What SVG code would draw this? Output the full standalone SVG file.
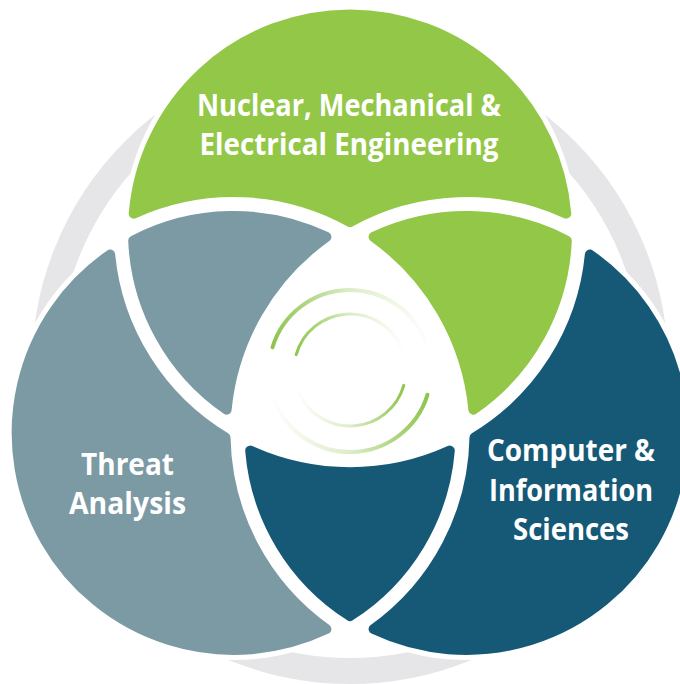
<svg xmlns="http://www.w3.org/2000/svg" xmlns:xlink="http://www.w3.org/1999/xlink" width="680" height="684" viewBox="0 0 680 684">
<defs>
<style>
.t{font-family:'Open Sans','Liberation Sans',sans-serif;font-weight:700;font-size:31px;fill:#ffffff;text-anchor:middle}
.shape{stroke-width:10;stroke-linejoin:round}
.g{fill:#93c748;stroke:#93c748}
.l{fill:#7b9aa4;stroke:#7b9aa4}
.r{fill:#165977;stroke:#165977}
.halo{fill:#ffffff}
.arc{fill:none;stroke-linecap:round}
</style>
<path id="outer" d="M133.73,213.64 A217,217 0 0 1 566.27,213.64 A241,241 0 0 0 350,222.02 A241,241 0 0 0 133.73,213.64 Z"/>
<path id="lobe" d="M133.2,240.58 A217,217 0 0 1 326.41,236.89 A241,241 0 0 0 226.6,409.75 A217,217 0 0 1 133.2,240.58 Z"/>
<linearGradient id="gu1" gradientUnits="userSpaceOnUse" x1="270" y1="0" x2="430" y2="0">
<stop offset="0" stop-color="#8cc34a" stop-opacity="1"/>
<stop offset="0.5" stop-color="#8cc34a" stop-opacity="0.3"/>
<stop offset="1" stop-color="#8cc34a" stop-opacity="0"/>
</linearGradient>
<linearGradient id="gl1" gradientUnits="userSpaceOnUse" x1="430" y1="0" x2="270" y2="0">
<stop offset="0" stop-color="#8cc34a" stop-opacity="1"/>
<stop offset="0.5" stop-color="#8cc34a" stop-opacity="0.3"/>
<stop offset="1" stop-color="#8cc34a" stop-opacity="0"/>
</linearGradient>
<linearGradient id="gu2" gradientUnits="userSpaceOnUse" x1="294" y1="0" x2="406" y2="0">
<stop offset="0" stop-color="#8cc34a" stop-opacity="1"/>
<stop offset="0.5" stop-color="#8cc34a" stop-opacity="0.3"/>
<stop offset="1" stop-color="#8cc34a" stop-opacity="0"/>
</linearGradient>
<linearGradient id="gl2" gradientUnits="userSpaceOnUse" x1="406" y1="0" x2="294" y2="0">
<stop offset="0" stop-color="#8cc34a" stop-opacity="1"/>
<stop offset="0.5" stop-color="#8cc34a" stop-opacity="0.3"/>
<stop offset="1" stop-color="#8cc34a" stop-opacity="0"/>
</linearGradient>
</defs>
<rect x="0" y="0" width="680" height="684" fill="#ffffff"/>
<g id="backdrop">
<circle cx="350" cy="366" r="305" fill="none" stroke="#e6e6e8" stroke-width="26"/>
<circle class="halo" cx="350" cy="231.25" r="227"/>
<circle class="halo" cx="233.5" cy="433" r="227"/>
<circle class="halo" cx="466.5" cy="433" r="227"/>
</g>
<g id="node-engineering">
<use xlink:href="#outer" class="shape g"/>
<use xlink:href="#lobe" class="shape g" transform="rotate(120 350 365.75)"/>
<text class="t" x="349" y="116" textLength="304" lengthAdjust="spacingAndGlyphs">Nuclear, Mechanical &amp;</text>
<text class="t" x="349" y="155" textLength="299" lengthAdjust="spacingAndGlyphs">Electrical Engineering</text>
</g>
<g id="node-threat">
<use xlink:href="#outer" class="shape l" transform="rotate(240 350 365.75)"/>
<use xlink:href="#lobe" class="shape l"/>
<text class="t" x="127.5" y="475" textLength="93" lengthAdjust="spacingAndGlyphs">Threat</text>
<text class="t" x="127.5" y="514" textLength="117" lengthAdjust="spacingAndGlyphs">Analysis</text>
</g>
<g id="node-computer">
<use xlink:href="#outer" class="shape r" transform="rotate(120 350 365.75)"/>
<use xlink:href="#lobe" class="shape r" transform="rotate(240 350 365.75)"/>
<text class="t" x="571" y="461" textLength="168" lengthAdjust="spacingAndGlyphs">Computer &amp;</text>
<text class="t" x="571" y="501" textLength="164" lengthAdjust="spacingAndGlyphs">Information</text>
<text class="t" x="571" y="540" textLength="116" lengthAdjust="spacingAndGlyphs">Sciences</text>
</g>
<g id="center-emblem">
<path class="arc" d="M272.5,347.3 A81,81 0 0 1 426.1,343.3" stroke="url(#gu1)" stroke-width="4"/>
<path class="arc" d="M427.5,394.7 A81,81 0 0 1 273.9,398.7" stroke="url(#gl1)" stroke-width="4"/>
<path class="arc" d="M296.2,354.6 A56,56 0 0 1 400.8,346.3" stroke="url(#gu2)" stroke-width="3"/>
<path class="arc" d="M403.8,385.4 A56,56 0 0 1 299.2,393.7" stroke="url(#gl2)" stroke-width="3"/>
</g>
</svg>
